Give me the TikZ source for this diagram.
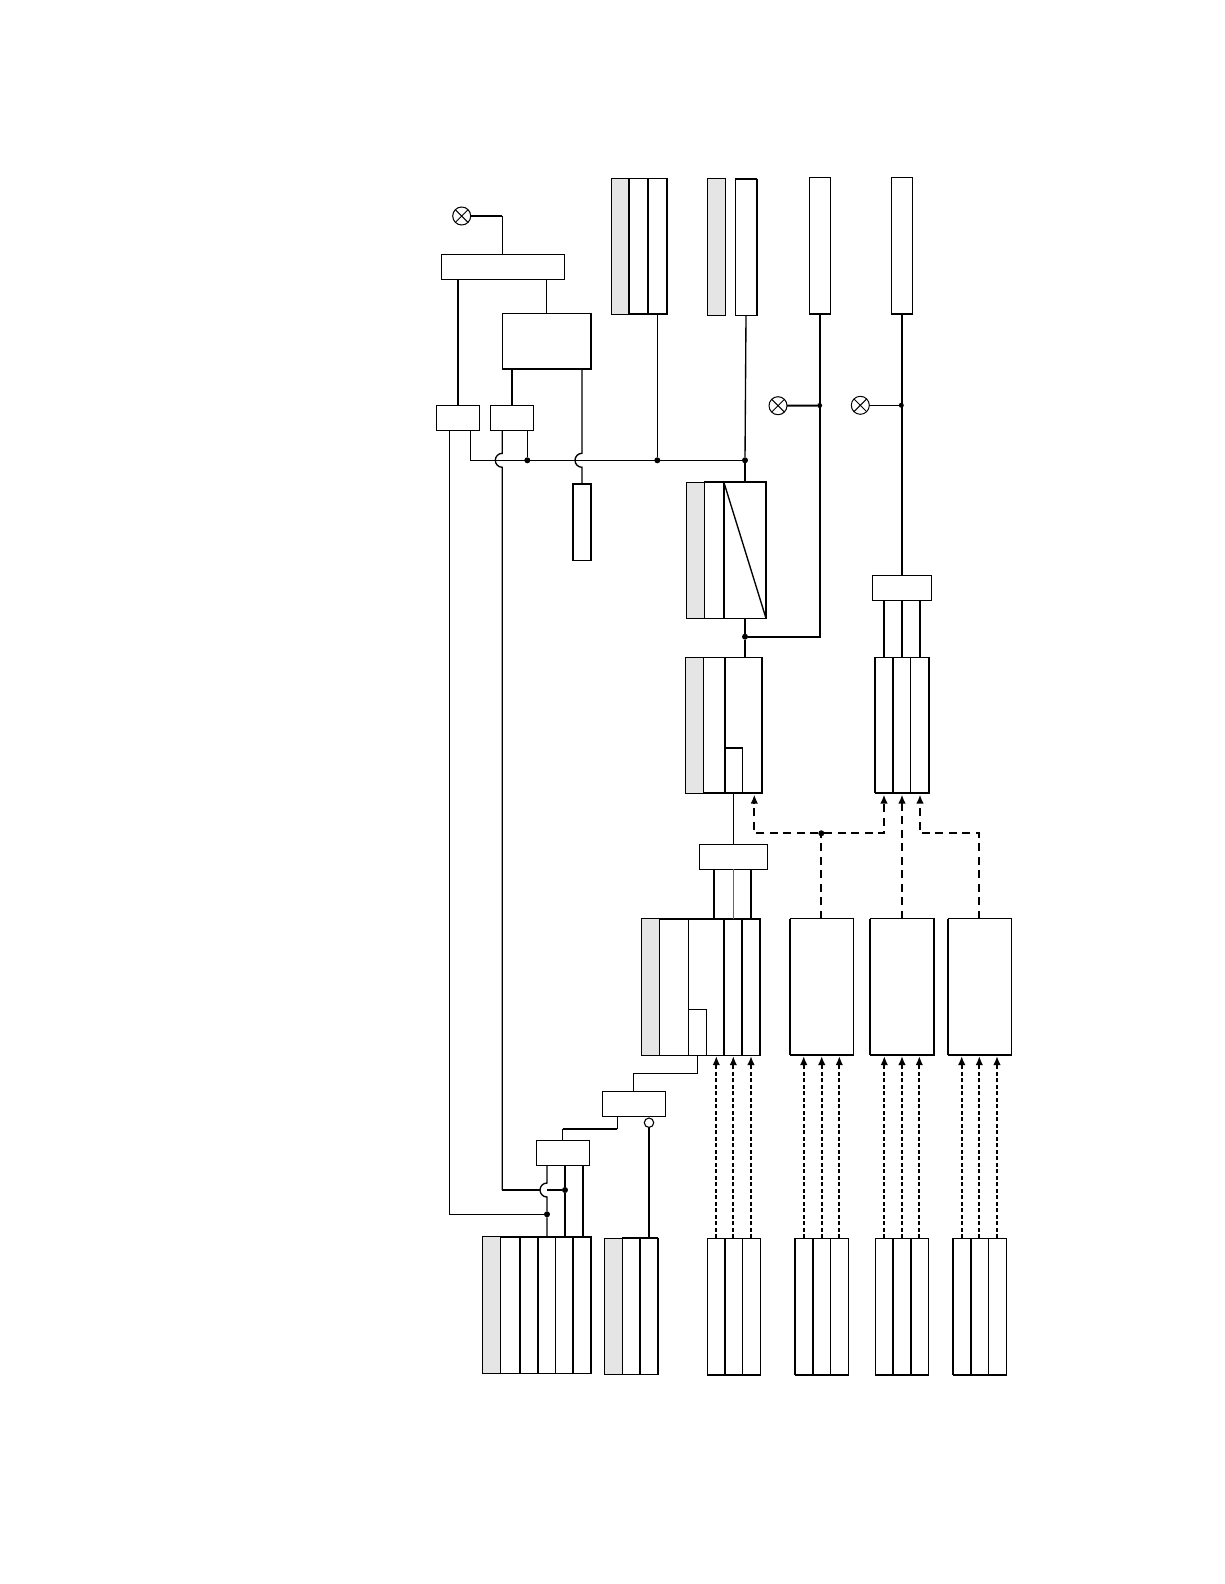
\documentclass[tikz,border=0pt]{standalone}
\usetikzlibrary{arrows.meta}
\tikzset{
  every node/.style={inner sep=0pt,outer sep=0pt},
  wire/.style={line width=1pt,black},
  heavy/.style={line width=2pt,black},
  mid/.style={line width=1.35pt,black},
  cellbox/.style={draw=black,line width=1pt,fill=white,rectangle},
  shade/.style={draw=black,line width=0.8pt,fill=black!10,rectangle},
  dot/.style={circle,fill=black,minimum size=6pt},
  lamp/.style={circle,draw=black,line width=1pt,fill=white,minimum size=18pt},
  ring/.style={circle,draw=black,line width=1.1pt,fill=white,minimum size=9.4pt},
  longdash/.style={line width=2.2pt,dash pattern=on 8pt off 5.5pt},
  shortdash/.style={line width=2.3pt,dash pattern=on 4pt off 2.5pt},
  tip/.style={-{Latex[length=9pt,width=7.5pt]}}
}
% \cell{name}{x1}{y1}{x2}{y2}{style}
\newcommand{\cell}[6]{\node[#6,minimum width={(#4-#2)*1pt},minimum height={(#5-#3)*1pt}] (#1) at ({(#2+#4)/2},{(#3+#5)/2}) {};}
% heavy edge macros
\newcommand{\hE}[1]{\draw[heavy] (#1.north east) -- (#1.south east);}
\newcommand{\hW}[1]{\draw[heavy] (#1.north west) -- (#1.south west);}
\newcommand{\hS}[1]{\draw[heavy] (#1.south west) -- (#1.south east);}
\newcommand{\hN}[1]{\draw[heavy] (#1.north west) -- (#1.north east);}
\newcommand{\lampat}[3]{\node[lamp] (#1) at (#2,#3) {}; \draw[wire] (#1.north east) -- (#1.south west) (#1.north west) -- (#1.south east);}
\begin{document}
\begin{tikzpicture}[x=1pt,y=-1pt]
\useasboundingbox (0,0) rectangle (1224,1584);
\fill[white] (0,0) rectangle (1224,1584);

% --- top left
\lampat{lampA}{461.7}{216}
\cell{boxA}{441.3}{254.3}{564.7}{279.3}{cellbox}
\cell{boxB}{502.3}{313.3}{591}{369}{cellbox}
\hE{boxB}\hS{boxB}
\cell{boxC}{436.3}{405.3}{479.7}{430.3}{cellbox}
\cell{boxD}{490.3}{405.3}{533.3}{430.3}{cellbox}
\cell{boxE}{572.7}{483.7}{591}{560}{cellbox}
\hE{boxE}\hW{boxE}\hN{boxE}

% --- top stacks
\cell{s1g}{611.3}{178.3}{629}{314.3}{shade}
\cell{s1a}{629}{178.3}{648}{314.3}{cellbox}
\cell{s1b}{648}{178.3}{667.3}{314.3}{cellbox}
\hW{s1a}\hE{s1a}\hE{s1b}\hS{s1a}\hS{s1b}
\cell{s2g}{707.3}{178.3}{725.3}{315.3}{shade}
\cell{s2a}{735.3}{179}{757.3}{315.3}{cellbox}
\hN{s2a}\hE{s2a}\draw[mid] (s2a.north west) -- (s2a.south west);
\cell{s3}{809.3}{177.3}{830.7}{314}{cellbox}
\hS{s3}
\cell{s4}{891.3}{177.3}{912.7}{314}{cellbox}
\hS{s4}

% --- voltage block F
\cell{fg}{686.3}{482.3}{704.3}{618.3}{shade}
\cell{fa}{704.3}{481.7}{723.7}{618.3}{cellbox}
\cell{fb}{723.7}{481.7}{766}{618.3}{cellbox}
\hN{fa}\hN{fb}\hE{fa}\hE{fb}
\draw[mid] (fb.north west) -- (fb.south east);

% --- block G
\cell{gg}{685.3}{657.3}{703.3}{793.3}{shade}
\cell{ga}{703.3}{657.3}{725}{793.3}{cellbox}
\cell{gb}{725}{657.3}{762}{793.3}{cellbox}
\cell{gc}{725}{747.7}{742.3}{793.3}{cellbox}
\hE{ga}\hE{gb}\hS{ga}\hS{gb}\hN{gc}

% --- block I and connector box J
\cell{ia}{875}{657.3}{892.7}{793.3}{cellbox}
\cell{ib}{892.7}{657.3}{910.3}{793.3}{cellbox}
\cell{ic}{910.3}{657.3}{929}{793.3}{cellbox}
\hW{ia}\hE{ia}\hE{ic}\hS{ia}\hS{ib}\hS{ic}
\cell{boxJ}{872.3}{575.3}{931.3}{600.3}{cellbox}
\cell{boxH}{699.3}{844}{767.3}{869.3}{cellbox}

% --- block K
\cell{kg}{641.3}{918.7}{659.3}{1055}{shade}
\cell{ka}{659.3}{918.7}{688.3}{1055}{cellbox}
\cell{kb}{688.3}{918.7}{724}{1055}{cellbox}
\cell{kc}{724}{918.7}{742}{1055}{cellbox}
\cell{kd}{742}{918.7}{760}{1055}{cellbox}
\cell{ke}{688.3}{1009.3}{706.3}{1055}{cellbox}
\hN{ka}\hN{kb}\hN{kc}\hN{kd}\hW{kc}\hE{kc}\hE{kd}

% --- blocks L M N
\cell{boxL}{790}{918.7}{853.3}{1055}{cellbox}
\hW{boxL}\hS{boxL}
\cell{boxM}{870}{918.7}{934}{1055}{cellbox}
\hW{boxM}\hS{boxM}\hE{boxM}
\cell{boxN}{948}{918.7}{1011.3}{1055}{cellbox}
\hW{boxN}\hS{boxN}

% --- bottom stacks
\cell{pa}{707.3}{1238.3}{725}{1375}{cellbox}
\cell{pb}{725}{1238.3}{742.7}{1375}{cellbox}
\cell{pc}{742.7}{1238.3}{760.3}{1375}{cellbox}
\hE{pa}\hS{pa}\hS{pb}\hS{pc}
\cell{qa}{795}{1238.3}{813}{1375}{cellbox}
\cell{qb}{813}{1238.3}{830.3}{1375}{cellbox}
\cell{qc}{830.3}{1238.3}{848.3}{1375}{cellbox}
\hW{qa}\hE{qa}\hS{qa}\hS{qb}\hS{qc}
\cell{ra}{875.3}{1238.3}{893}{1375}{cellbox}
\cell{rb}{893}{1238.3}{911}{1375}{cellbox}
\cell{rc}{911}{1238.3}{928.7}{1375}{cellbox}
\hE{ra}\hE{rb}\hS{ra}\hS{rb}\hS{rc}
\cell{sa}{953}{1238.3}{971}{1375}{cellbox}
\cell{sb}{971}{1238.3}{988.7}{1375}{cellbox}
\cell{sc}{988.7}{1238.3}{1006.3}{1375}{cellbox}
\hW{sa}\hE{sa}\hS{sa}\hS{sb}\hS{sc}
\cell{tg}{482.3}{1236.7}{500.3}{1373.3}{shade}
\cell{ta}{500.3}{1236.7}{519.7}{1373.3}{cellbox}
\cell{tb}{519.7}{1236.7}{538}{1373.3}{cellbox}
\cell{tc}{538}{1236.7}{555.3}{1373.3}{cellbox}
\cell{td}{555.3}{1236.7}{573.3}{1373.3}{cellbox}
\cell{te}{573.3}{1236.7}{591}{1373.3}{cellbox}
\hN{ta}\hN{tb}\hN{tc}\hN{td}\hN{te}\hE{ta}\hE{tb}\hE{td}\hE{te}
\cell{ug}{604.3}{1238.3}{622.3}{1374.3}{shade}
\cell{ua}{622.3}{1238.3}{640}{1374.3}{cellbox}
\cell{ub}{640}{1238.3}{658}{1374.3}{cellbox}
\hN{ua}\hN{ub}\hE{ua}\hE{ub}

% --- connector boxes at bottom left
\cell{boxV}{602.3}{1091.3}{665.3}{1116.3}{cellbox}
\cell{boxW}{536.3}{1140.3}{589.3}{1165.3}{cellbox}
\node[ring] (ringV) at (649,1122.7) {};

% --- lamps on the right
\lampat{lampB}{778}{405.7}
\lampat{lampC}{860.3}{405.3}

% --- bus and junctions
\node[dot] (jD) at (527.3,460.3) {};
\node[dot] (j1) at (657.3,460.3) {};
\node[dot] (j2) at (745,460.3) {};
\node[dot,minimum size=5pt] (jB) at (819.6,405.5) {};
\node[dot,minimum size=5pt] (jC) at (901.3,405.3) {};
\node[dot] (jF) at (745,636.7) {};
\node[dot] (jDash) at (821.3,833.3) {};
\node[dot] (jW2) at (565,1190) {};
\node[dot] (jW1) at (547,1214.3) {};
\coordinate (turnK) at (633.3,1073.3);

\draw[heavy] (lampA.east) -- (502.3,216);
\draw[wire] (502.3,216) -- (502.3,254.3);
\draw[mid] (458,0 |- boxA.south) -- (458,0 |- boxC.north);
\draw[mid] (546.7,0 |- boxA.south) -- (546.7,0 |- boxB.north);
\draw[heavy] (511.7,0 |- boxB.south) -- (511.7,0 |- boxD.north);
% bus
\draw[wire] (470.7,0 |- boxC.south) -- (470.7,460.3) -- (j2);
\draw[wire] (527.3,0 |- boxD.south) -- (jD);
% line through the first hop and down to the W junction
\draw[mid] (502.3,0 |- boxD.south) -- (502.3,453.3) arc[start angle=-90,end angle=-270,radius=7] -- (502.3,1190);
\draw[heavy] (502.3,1190) -- (539.9,1190);
\draw[heavy] (547,1190) -- (jW2);
% line through the second hop
\draw[mid] (582,0 |- boxB.south) -- (582,453.3) arc[start angle=-90,end angle=-270,radius=7] -- (582,0 |- boxE.north);
% stacks to bus
\draw[mid] (657.3,0 |- s1b.south) -- (j1);
\draw[mid] (746,0 |- s2a.south) -- (j2);
\draw[mid] (j2) -- (745,0 |- fb.north);
\draw[mid] (745,0 |- fb.south) -- (jF);
\draw[mid] (jF) -- (745,0 |- gb.north);
\draw[heavy] (jF) -- (820,636.7) -- (820,0 |- s3.south);
\draw[heavy] (lampB.east) -- (jB);
\draw[wire] (lampC.east) -- (jC);
\draw[heavy] (902,0 |- s4.south) -- (902,0 |- boxJ.north);
% J to I
\draw[mid] (884,0 |- boxJ.south) -- (884,0 |- ia.north);
\draw[mid] (902,0 |- boxJ.south) -- (902,0 |- ib.north);
\draw[heavy] (920,0 |- boxJ.south) -- (920,0 |- ic.north);
% G to H to K
\draw[wire] (733.3,0 |- gc.south) -- (733.3,0 |- boxH.north);
\draw[heavy] (714,0 |- boxH.south) -- (714,0 |- kb.north);
\draw[mid,black!60] (733.3,0 |- boxH.south) -- (733.3,0 |- kc.north);
\draw[heavy] (750.7,0 |- boxH.south) -- (750.7,0 |- kd.north);
% dashed group
\draw[longdash,tip] (jDash) -- (754.3,833.3) -- (754.3,794.5);
\draw[longdash,tip] (jDash) -- (884,833.3) -- (884,794.5);
\draw[longdash] (821.3,0 |- boxL.north) -- (jDash);
\draw[longdash,tip] (902,0 |- boxM.north) -- (902,794.5);
\draw[longdash,tip] (979.3,0 |- boxN.north) -- (979.3,833.3) -- (920,833.3) -- (920,794.5);
% short dashed arrows
\foreach \nx/\ny in {716.3/pa,733.3/pb,751/pc,803.7/qa,821.7/qb,839.3/qc,884.3/ra,902/rb,919.3/rc,961.7/sa,979.3/sb,997/sc}
  \draw[shortdash,tip] (\nx,0 |- \ny.north) -- (\nx,1056);
% K to V to W to T
\draw[wire] (697.7,0 |- kb.south) -- (697.7,1073.3) -- (turnK) -- (turnK |- boxV.north);
\draw[wire] (617.3,0 |- boxV.south) -- (617.3,1128.7);
\draw[heavy] (617.3,1128.7) -- (562.7,1128.7);
\draw[wire] (562.7,1128.7) -- (562.7,0 |- boxW.north);
\draw[mid] (ringV.south) -- (649,0 |- ub.north);
\draw[mid] (547,0 |- boxW.south) -- (547,1183) arc[start angle=-90,end angle=-270,radius=7] -- (jW1) -- (547,0 |- tc.north);
\draw[heavy] (565,0 |- boxW.south) -- (jW2) -- (565,0 |- td.north);
\draw[heavy] (583,0 |- boxW.south) -- (583,0 |- te.north);
\draw[wire] (449.3,0 |- boxC.south) -- (449.3,1214.3) -- (jW1);
\end{tikzpicture}
\end{document}
